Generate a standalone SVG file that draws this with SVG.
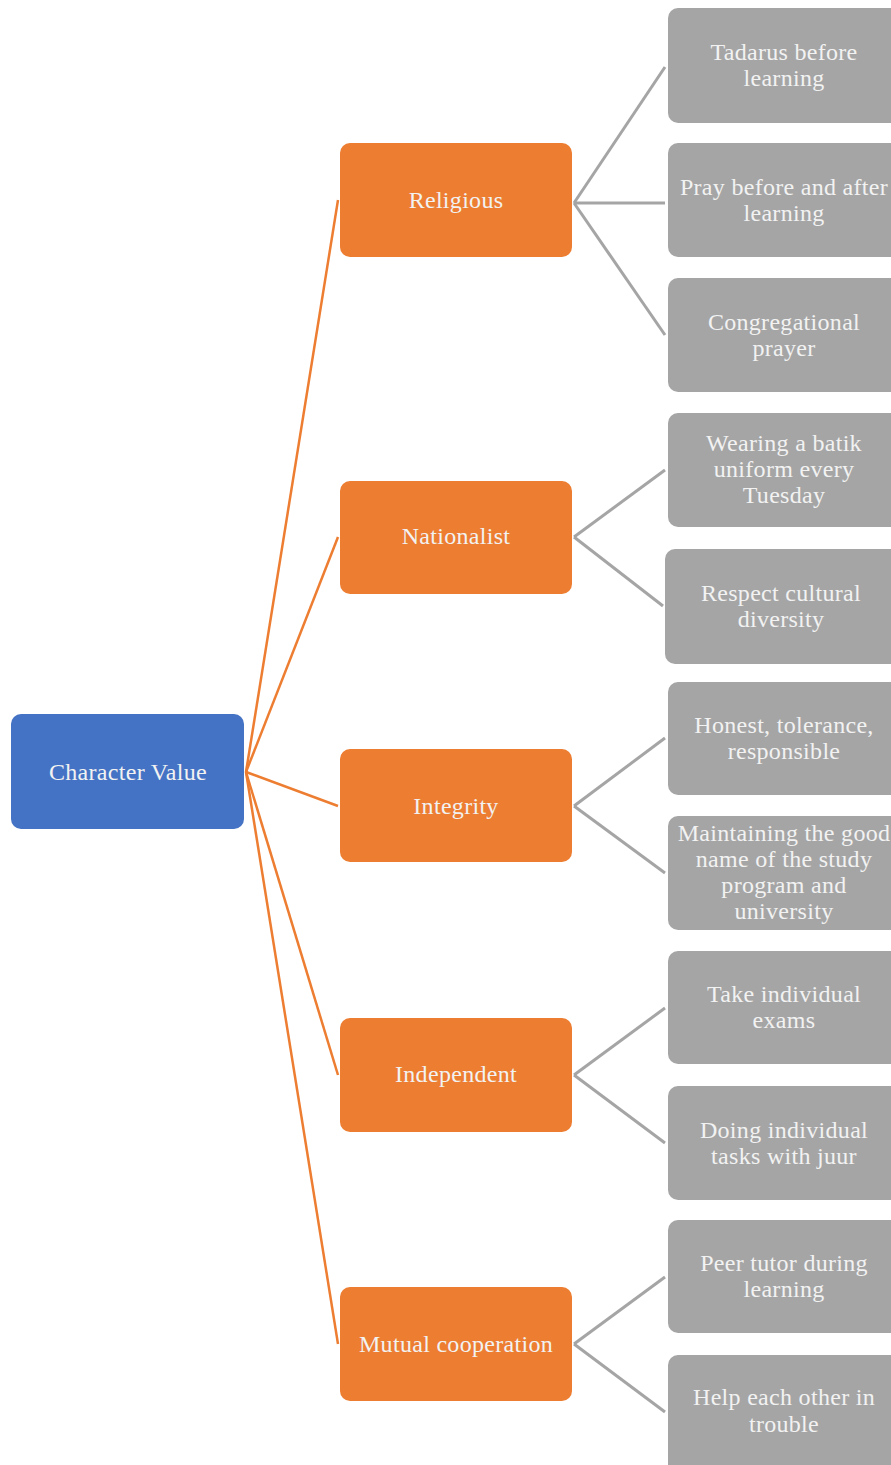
<svg xmlns="http://www.w3.org/2000/svg" width="891" height="1465" viewBox="0 0 891 1465">
<style>
.root{fill:#4472C4}
.cat{fill:#ED7D31}
.leaf{fill:#A5A5A5}
.t{font-family:"Liberation Serif","Times New Roman",serif;font-size:24px;fill:#F2F2F2;text-anchor:middle;dominant-baseline:central;letter-spacing:0.3px}
.oc{stroke:#ED7D31;stroke-width:2.5;fill:none}
.gc{stroke:#A5A5A5;stroke-width:3;fill:none}
</style>
<rect width="891" height="1465" fill="#fff"/>
<g id="connectors">
<line class="oc" x1="246" y1="772" x2="338" y2="200"/>
<line class="oc" x1="246" y1="772" x2="338" y2="537"/>
<line class="oc" x1="246" y1="772" x2="338" y2="806"/>
<line class="oc" x1="246" y1="772" x2="338" y2="1075"/>
<line class="oc" x1="246" y1="772" x2="338" y2="1344"/>
<line class="gc" x1="574" y1="203" x2="665" y2="67"/>
<line class="gc" x1="574" y1="203" x2="665" y2="203"/>
<line class="gc" x1="574" y1="203" x2="665" y2="335"/>
<line class="gc" x1="574" y1="537" x2="665" y2="470"/>
<line class="gc" x1="574" y1="537" x2="663" y2="606"/>
<line class="gc" x1="574" y1="806" x2="665" y2="738"/>
<line class="gc" x1="574" y1="806" x2="665" y2="873"/>
<line class="gc" x1="574" y1="1075" x2="665" y2="1008"/>
<line class="gc" x1="574" y1="1075" x2="665" y2="1143"/>
<line class="gc" x1="574" y1="1344" x2="665" y2="1277"/>
<line class="gc" x1="574" y1="1344" x2="665" y2="1412"/>
</g>
<g id="root"><rect class="root" x="11" y="714" width="233" height="115" rx="10"/><text class="t" x="128" y="772">Character Value</text></g>
<g id="religious"><rect class="cat" x="340" y="143" width="232" height="114" rx="10"/><text class="t" x="456" y="200">Religious</text></g>
<g id="nationalist"><rect class="cat" x="340" y="481" width="232" height="113" rx="10"/><text class="t" x="456" y="536">Nationalist</text></g>
<g id="integrity"><rect class="cat" x="340" y="749" width="232" height="113" rx="10"/><text class="t" x="456" y="806">Integrity</text></g>
<g id="independent"><rect class="cat" x="340" y="1018" width="232" height="114" rx="10"/><text class="t" x="456" y="1074">Independent</text></g>
<g id="mutual"><rect class="cat" x="340" y="1287" width="232" height="114" rx="10"/><text class="t" x="456" y="1344">Mutual cooperation</text></g>
<g id="tadarus"><rect class="leaf" x="668" y="8" width="240" height="115" rx="10"/><text class="t" x="784" y="52">Tadarus before</text><text class="t" x="784" y="78">learning</text></g>
<g id="pray"><rect class="leaf" x="668" y="143" width="240" height="114" rx="10"/><text class="t" x="784" y="187">Pray before and after</text><text class="t" x="784" y="213">learning</text></g>
<g id="congregational"><rect class="leaf" x="668" y="278" width="240" height="114" rx="10"/><text class="t" x="784" y="322">Congregational</text><text class="t" x="784" y="348">prayer</text></g>
<g id="batik"><rect class="leaf" x="668" y="413" width="240" height="114" rx="10"/><text class="t" x="784" y="443">Wearing a batik</text><text class="t" x="784" y="469">uniform every</text><text class="t" x="784" y="495">Tuesday</text></g>
<g id="respect"><rect class="leaf" x="665" y="549" width="240" height="115" rx="10"/><text class="t" x="781" y="593">Respect cultural</text><text class="t" x="781" y="619">diversity</text></g>
<g id="honest"><rect class="leaf" x="668" y="682" width="240" height="113" rx="10"/><text class="t" x="784" y="725">Honest, tolerance,</text><text class="t" x="784" y="751">responsible</text></g>
<g id="maintaining"><rect class="leaf" x="668" y="816" width="240" height="114" rx="10"/><text class="t" x="784" y="833">Maintaining the good</text><text class="t" x="784" y="859">name of the study</text><text class="t" x="784" y="885">program and</text><text class="t" x="784" y="911">university</text></g>
<g id="take"><rect class="leaf" x="668" y="951" width="240" height="113" rx="10"/><text class="t" x="784" y="994">Take individual</text><text class="t" x="784" y="1020">exams</text></g>
<g id="doing"><rect class="leaf" x="668" y="1086" width="240" height="114" rx="10"/><text class="t" x="784" y="1130">Doing individual</text><text class="t" x="784" y="1156">tasks with juur</text></g>
<g id="peer"><rect class="leaf" x="668" y="1220" width="240" height="113" rx="10"/><text class="t" x="784" y="1263">Peer tutor during</text><text class="t" x="784" y="1289">learning</text></g>
<g id="help"><rect class="leaf" x="668" y="1355" width="240" height="120" rx="10"/><text class="t" x="784" y="1397">Help each other in</text><text class="t" x="784" y="1424">trouble</text></g>
</svg>
